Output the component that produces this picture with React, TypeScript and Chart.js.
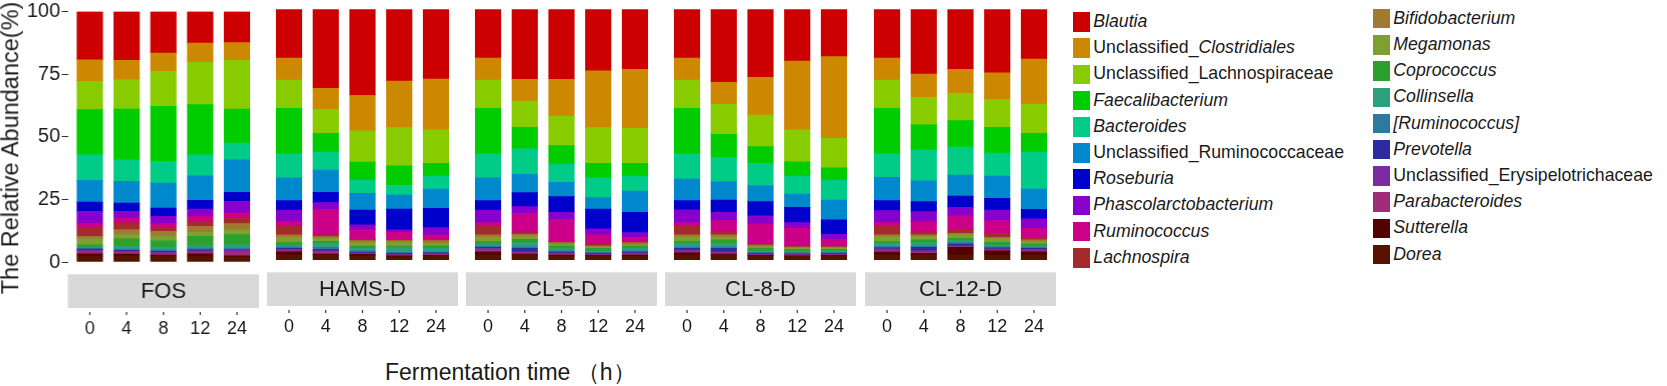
import React, { useEffect, useRef } from 'react';
import { Chart, registerables } from 'chart.js';

Chart.register(...registerables);

// ---------- data ----------
const taxa = [
  'Blautia',
  'Unclassified_Clostridiales',
  'Unclassified_Lachnospiraceae',
  'Faecalibacterium',
  'Bacteroides',
  'Unclassified_Ruminococcaceae',
  'Roseburia',
  'Phascolarctobacterium',
  'Ruminococcus',
  'Lachnospira',
  'Bifidobacterium',
  'Megamonas',
  'Coprococcus',
  'Collinsella',
  '[Ruminococcus]',
  'Prevotella',
  'Unclassified_Erysipelotrichaceae',
  'Parabacteroides',
  'Sutterella',
  'Dorea',
];

const taxaColors = [
  '#CC0000', '#CC8800', '#88CC00', '#00CC00', '#00CC88',
  '#0088CC', '#0000CC', '#8800CC', '#CC0088', '#A32B2B',
  '#A07A30', '#7DA030', '#2CA02C', '#2CA07D', '#2C7AA0',
  '#2C2CA0', '#7A2CA0', '#A02C7A', '#520000', '#561400',
];

const groups = ['FOS', 'HAMS-D', 'CL-5-D', 'CL-8-D', 'CL-12-D'];
const times = ['0', '4', '8', '12', '24'];
const yTicks = [0, 25, 50, 75, 100];

// rows = time points, columns = taxa (legend order)
const FOS = [
  [19.3, 8.6, 11.3, 18.0, 10.2, 8.7, 3.7, 4.9, 1.5, 3.6, 1.0, 2.3, 0.9, 0.4, 0.4, 0.5, 0.8, 0.6, 1.0, 2.3],
  [19.5, 7.8, 11.7, 20.2, 8.6, 8.7, 3.3, 2.6, 2.0, 2.7, 2.0, 1.7, 2.9, 1.1, 0.5, 0.4, 0.4, 0.7, 0.7, 2.5],
  [16.6, 7.3, 14.0, 21.9, 8.7, 10.0, 3.3, 2.9, 1.5, 1.6, 2.0, 1.6, 2.6, 1.1, 0.6, 0.4, 0.6, 0.5, 0.5, 2.3],
  [12.6, 7.7, 16.9, 20.0, 8.4, 9.8, 3.5, 2.9, 2.0, 2.0, 2.4, 1.6, 3.7, 0.9, 0.7, 0.4, 0.5, 0.7, 1.0, 2.3],
  [12.4, 7.1, 19.5, 13.5, 6.7, 13.0, 3.6, 4.7, 1.9, 2.3, 2.4, 2.0, 4.0, 1.3, 0.7, 0.2, 0.8, 1.4, 0.5, 2.0],
];
const HAMS_D = [
  [19.5, 8.7, 11.3, 18.2, 9.5, 9.1, 3.8, 4.6, 1.7, 3.6, 1.0, 2.1, 0.9, 0.7, 0.6, 0.4, 0.6, 0.4, 1.3, 2.0],
  [31.5, 8.4, 9.6, 7.5, 7.1, 8.9, 4.1, 2.7, 10.2, 0.7, 0.8, 1.1, 0.8, 1.5, 0.8, 0.6, 0.4, 0.9, 0.4, 2.0],
  [34.4, 14.1, 12.4, 7.2, 5.3, 6.7, 5.9, 2.0, 3.8, 0.5, 0.8, 1.3, 0.9, 1.0, 0.5, 0.4, 0.3, 0.2, 0.6, 1.7],
  [28.6, 18.6, 15.2, 7.9, 3.8, 5.6, 8.3, 1.0, 2.8, 0.5, 0.8, 1.3, 0.5, 2.0, 0.4, 0.4, 0.3, 0.3, 0.4, 1.3],
  [27.8, 20.3, 13.3, 5.1, 5.2, 7.7, 7.7, 2.9, 1.8, 0.5, 1.1, 1.0, 0.9, 1.4, 0.4, 0.4, 0.2, 0.4, 0.3, 1.6],
];
const CL_5_D = [
  [19.5, 8.7, 11.3, 18.2, 9.5, 9.1, 3.8, 5.0, 1.3, 3.6, 1.0, 1.7, 0.9, 0.8, 0.5, 0.5, 0.8, 0.5, 1.2, 2.1],
  [27.9, 8.7, 10.5, 8.6, 10.1, 7.3, 5.6, 2.7, 7.7, 0.7, 0.9, 1.1, 1.3, 1.6, 0.6, 1.4, 0.4, 0.5, 0.4, 2.0],
  [27.9, 14.7, 11.8, 7.3, 7.3, 5.7, 6.3, 2.8, 8.9, 0.4, 0.6, 0.7, 1.1, 0.8, 0.5, 0.4, 0.4, 0.4, 0.4, 1.6],
  [24.5, 22.7, 14.2, 5.8, 7.9, 4.6, 7.9, 2.4, 3.7, 0.6, 0.5, 0.5, 1.0, 0.6, 0.4, 0.3, 0.3, 0.2, 0.3, 1.6],
  [23.9, 23.6, 13.9, 5.1, 6.0, 8.5, 8.1, 1.9, 1.7, 0.5, 0.7, 0.5, 0.9, 1.0, 0.5, 0.4, 0.4, 0.4, 0.4, 1.6],
];
const CL_8_D = [
  [19.5, 8.7, 11.3, 18.2, 10.0, 8.6, 3.7, 5.1, 1.3, 3.6, 0.9, 1.7, 0.9, 1.1, 0.7, 0.7, 0.7, 0.4, 0.9, 2.0],
  [29.1, 8.8, 12.0, 9.1, 9.7, 7.4, 4.9, 3.3, 4.7, 1.0, 1.0, 1.0, 1.4, 1.3, 0.6, 1.4, 0.4, 0.5, 0.4, 2.0],
  [27.1, 15.1, 12.6, 6.6, 8.9, 6.4, 5.7, 3.2, 8.0, 0.4, 0.7, 0.6, 1.0, 0.6, 0.4, 0.3, 0.3, 0.2, 0.3, 1.6],
  [20.7, 27.4, 12.7, 5.7, 7.2, 5.3, 6.1, 2.3, 7.0, 0.4, 0.4, 0.5, 1.0, 0.4, 0.4, 0.2, 0.3, 0.3, 0.2, 1.5],
  [18.9, 32.6, 11.7, 4.9, 8.0, 7.9, 5.8, 2.0, 2.6, 0.4, 0.4, 0.5, 0.7, 0.5, 0.4, 0.3, 0.3, 0.2, 0.3, 1.6],
];
const CL_12_D = [
  [19.5, 8.7, 11.3, 18.2, 9.3, 9.3, 4.0, 4.8, 1.3, 3.6, 0.7, 2.0, 0.7, 1.1, 0.5, 0.5, 0.8, 0.5, 1.2, 2.0],
  [25.8, 9.3, 11.0, 10.0, 12.3, 8.3, 4.0, 4.0, 4.4, 0.9, 0.7, 1.3, 1.1, 1.3, 0.5, 1.4, 0.6, 0.4, 0.7, 2.0],
  [23.9, 9.6, 10.9, 10.6, 11.1, 8.4, 4.5, 3.4, 5.6, 1.4, 0.6, 1.4, 0.9, 0.8, 0.5, 0.7, 0.4, 0.2, 3.1, 2.0],
  [25.3, 10.6, 11.2, 10.3, 9.1, 8.9, 4.7, 4.2, 5.1, 1.6, 0.6, 1.4, 1.0, 0.7, 0.4, 0.4, 0.5, 0.3, 1.7, 2.0],
  [19.9, 17.9, 11.7, 7.5, 14.7, 8.1, 3.8, 3.8, 3.6, 1.0, 0.7, 0.9, 0.8, 0.5, 0.4, 0.4, 0.6, 0.4, 1.3, 2.0],
];

const groupValues = [FOS, HAMS_D, CL_5_D, CL_8_D, CL_12_D];
const italicSuffixOnly = ['Unclassified_Clostridiales'];

// ---------- layout ----------
const FONT = '"Liberation Sans", Arial, Helvetica, sans-serif';
const TEXT = '#1a1a1a';
const PANEL_W = 191;
const PANEL_STEP = 199.3;
const PANEL_LEFT0 = 67.5;
const Y_AXIS_W = 67.5;
const X_AXIS_H = 85;

const stripPlugin = {
  id: 'facetStrip',
  afterDraw(chart: any, _args: any, opts: any) {
    const { ctx, chartArea } = chart;
    const xs = chart.scales.x;
    const top = chartArea.bottom + 12.3;
    const h = 33.7;
    ctx.save();
    ctx.fillStyle = '#D9D9D9';
    ctx.fillRect(chartArea.left, top, chartArea.right - chartArea.left, h);
    ctx.fillStyle = TEXT;
    ctx.font = `22px ${FONT}`;
    ctx.textAlign = 'center';
    ctx.textBaseline = 'middle';
    ctx.fillText(opts.label, (chartArea.left + chartArea.right) / 2, top + h / 2 + 1);
    ctx.strokeStyle = '#333333';
    ctx.lineWidth = 1.2;
    times.forEach((_, i) => {
      const px = xs.getPixelForValue(i);
      ctx.beginPath();
      ctx.moveTo(px, chartArea.bottom + 50);
      ctx.lineTo(px, chartArea.bottom + 53);
      ctx.stroke();
    });
    ctx.restore();
  },
};

function Panel({ index }: { index: number }) {
  const ref = useRef<HTMLCanvasElement | null>(null);
  const isFirst = index === 0;
  const plotTop = isFirst ? 11.5 : 9.3;
  const plotBottom = isFirst ? 262 : 260;
  const width = PANEL_W + (isFirst ? Y_AXIS_W : 0);
  const height = plotBottom + X_AXIS_H;
  const left = isFirst ? PANEL_LEFT0 - Y_AXIS_W : PANEL_LEFT0 + index * PANEL_STEP;

  useEffect(() => {
    if (!ref.current) return;
    const rows = groupValues[index];
    const datasets = taxa
      .map((name, k) => ({
        label: name,
        data: rows.map((r, i) => ({ x: i, y: r[k] })),
        backgroundColor: taxaColors[k],
        borderWidth: 0,
        barThickness: 25.5,
      }))
      .reverse();

    const chart = new Chart(ref.current, {
      type: 'bar',
      data: { datasets } as any,
      options: {
        animation: false,
        responsive: false,
        maintainAspectRatio: false,
        events: [],
        layout: { padding: { top: plotTop, left: 0, right: 0, bottom: 0 } },
        plugins: {
          legend: { display: false },
          tooltip: { enabled: false },
          facetStrip: { label: groups[index] },
        } as any,
        scales: {
          x: {
            type: 'linear',
            min: -0.6,
            max: 4.6,
            stacked: true,
            offset: false,
            grid: { display: false, drawTicks: true, tickLength: 56 },
            border: { display: false },
            afterBuildTicks: (s: any) => {
              s.ticks = times.map((_, i) => ({ value: i }));
            },
            afterFit: (s: any) => {
              s.height = X_AXIS_H;
            },
            ticks: {
              callback: (v: any) => times[v as number],
              font: { family: FONT, size: 18 },
              color: TEXT,
              padding: 0,
              maxRotation: 0,
              autoSkip: false,
            },
          },
          y: {
            display: isFirst,
            min: 0,
            max: 100,
            stacked: true,
            grid: { display: true, drawOnChartArea: false, drawTicks: true, tickLength: 6, color: '#333333' },
            border: { display: false },
            afterBuildTicks: (s: any) => {
              s.ticks = yTicks.map((v) => ({ value: v }));
            },
            afterFit: (s: any) => {
              if (isFirst) s.width = Y_AXIS_W;
            },
            ticks: {
              font: { family: FONT, size: 20, lineHeight: 1 },
              color: TEXT,
              padding: 1.5,
            },
          },
        },
      } as any,
      plugins: [stripPlugin],
    });
    return () => chart.destroy();
  }, [index]);

  return (
    <canvas
      ref={ref}
      width={width}
      height={height}
      style={{ position: 'absolute', left, top: 0, width, height }}
    />
  );
}

function LegendLabel({ name }: { name: string }) {
  if (name.startsWith('Unclassified_')) {
    const suffix = name.slice('Unclassified_'.length);
    return (
      <span>
        Unclassified_
        {italicSuffixOnly.includes(name) ? <i>{suffix}</i> : suffix}
      </span>
    );
  }
  return <i>{name}</i>;
}

function Legend() {
  const cols = [
    { boxLeft: 1072.7, textLeft: 1093.3, firstCenter: 22, items: taxa.slice(0, 10), offset: 0 },
    { boxLeft: 1372.7, textLeft: 1393.3, firstCenter: 18.7, items: taxa.slice(10), offset: 10 },
  ];
  const step = 26.2;
  return (
    <>
      {cols.map((c) =>
        c.items.map((name, j) => {
          const cy = c.firstCenter + j * step;
          return (
            <React.Fragment key={name}>
              <div
                style={{
                  position: 'absolute',
                  left: c.boxLeft,
                  top: cy - 9.75,
                  width: 17.5,
                  height: 19.5,
                  background: taxaColors[c.offset + j],
                }}
              />
              <div
                style={{
                  position: 'absolute',
                  left: c.textLeft,
                  top: cy,
                  transform: 'translateY(-50%)',
                  fontSize: 17.7,
                  lineHeight: 1,
                  whiteSpace: 'nowrap',
                  color: TEXT,
                }}
              >
                <LegendLabel name={name} />
              </div>
            </React.Fragment>
          );
        })
      )}
    </>
  );
}

export default function App() {
  useEffect(() => {
    document.body.style.margin = '0';
  }, []);
  return (
    <div
      style={{
        position: 'fixed',
        left: 0,
        top: 0,
        width: 1667,
        height: 386,
        background: '#ffffff',
        overflow: 'hidden',
        fontFamily: FONT,
      }}
    >
      {groups.map((g, i) => (
        <Panel key={g} index={i} />
      ))}
      <div
        style={{
          position: 'absolute',
          left: 10.5,
          top: 148,
          transform: 'translate(-50%, -50%) rotate(-90deg)',
          fontSize: 23.5,
          lineHeight: 1,
          whiteSpace: 'nowrap',
          color: TEXT,
        }}
      >
        The Relative Abundance(%)
      </div>
      <div
        style={{
          position: 'absolute',
          left: 385,
          top: 372,
          transform: 'translateY(-50%)',
          fontSize: 23,
          lineHeight: 1,
          whiteSpace: 'nowrap',
          color: TEXT,
        }}
      >
        Fermentation time （h）
      </div>
      <Legend />
    </div>
  );
}
